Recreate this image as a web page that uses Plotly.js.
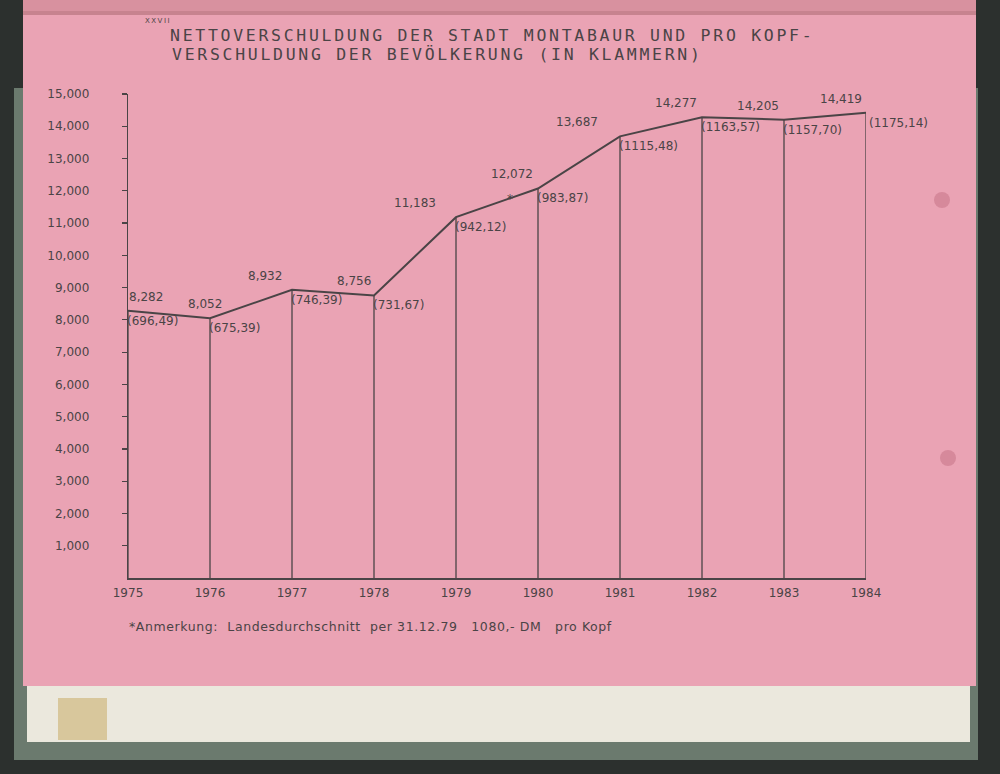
<!DOCTYPE html>
<html>
<head>
<meta charset="utf-8">
<script src="https://cdn.plot.ly/plotly-3.0.1.min.js"></script>
<style>html,body{margin:0;padding:0;background:#2c302e;}#chart{width:1000px;height:774px;}</style>
</head>
<body>
<div id="chart"></div>
<script>
// ---- data ----
const years = [1975, 1976, 1977, 1978, 1979, 1980, 1981, 1982, 1983, 1984];
const netDebt = [8282, 8052, 8932, 8756, 11183, 12072, 13687, 14277, 14205, 14419]; // in 1000 DM
const perCapita = [696.49, 675.39, 746.39, 731.67, 942.12, 983.87, 1115.48, 1163.57, 1157.70, 1175.14]; // DM pro Kopf
const yTicks = [1000, 2000, 3000, 4000, 5000, 6000, 7000, 8000, 9000, 10000, 11000, 12000, 13000, 14000, 15000];
const titleLine1 = 'NETTOVERSCHULDUNG DER STADT MONTABAUR UND PRO KOPF-';
const titleLine2 = 'VERSCHULDUNG DER BEVÖLKERUNG (IN KLAMMERN)';
const footnote = '*Anmerkung:  Landesdurchschnitt  per 31.12.79   1080,- DM   pro Kopf';

// ---- styles ----
const ink = '#4a4446';
const font = 'DejaVu Sans, sans-serif';
const mono = 'DejaVu Sans Mono, monospace';
const debtAnchor = ['left', 'center', 'right', 'right', 'right', 'right', 'right', 'right', 'right', 'right'];
const debtXShift = [-1, -5, -8, -1, -18, -3, -20, -3, -3, -2];
const capXShift = [-3, -3, -3, -3, -3, -3, -3, -3, -3, 1];

const debtLabels = netDebt.map(v => v.toLocaleString('en-US'));
const capLabels = perCapita.map(v => '(' + v.toFixed(2).replace('.', ',') + ')');

const traceLine = {
  x: years, y: netDebt, type: 'scatter', mode: 'lines',
  line: {color: ink, width: 2},
  error_y: {type: 'data', symmetric: false, array: years.map(() => 0), arrayminus: netDebt,
            color: ink, thickness: 1.3, width: 0},
  cliponaxis: false, hoverinfo: 'skip', showlegend: false
};

// pixel -> paper helpers for decorative page shapes
const PX = px => (px - 128) / 738;
const PY = py => (578 - py) / 484;
function rect(x0, y0, x1, y1, color) {
  return {type: 'rect', xref: 'paper', yref: 'paper', x0: PX(x0), x1: PX(x1), y0: PY(y0), y1: PY(y1),
          fillcolor: color, line: {width: 0}, layer: 'below'};
}
function circ(cx, cy, r, color) {
  return {type: 'circle', xref: 'paper', yref: 'paper', x0: PX(cx - r), x1: PX(cx + r), y0: PY(cy - r), y1: PY(cy + r),
          fillcolor: color, line: {width: 0}, layer: 'below'};
}
const spaced = (t, px) => '<span style="letter-spacing:' + px + 'px">' + t + '</span>';

const annotations = [];
years.forEach((yr, i) => {
  annotations.push({text: debtLabels[i], x: yr, y: netDebt[i], xref: 'x', yref: 'y',
    xanchor: debtAnchor[i], yanchor: 'bottom', xshift: debtXShift[i], yshift: 5,
    showarrow: false, font: {family: font, size: 12, color: ink}});
  annotations.push({text: capLabels[i], x: yr, y: netDebt[i], xref: 'x', yref: 'y',
    xanchor: 'left', yanchor: 'top', xshift: capXShift[i], yshift: -1,
    showarrow: false, font: {family: font, size: 12, color: ink}});
});
annotations.push(
  {text: spaced(titleLine2, 2.7), xref: 'paper', yref: 'paper', x: PX(170), y: PY(55), xanchor: 'left', yanchor: 'middle',
   showarrow: false, font: {family: mono, size: 16.5, color: ink}},
  {text: spaced('XXVII', 1.5), xref: 'paper', yref: 'paper', x: PX(143), y: PY(21), xanchor: 'left', yanchor: 'middle',
   showarrow: false, font: {family: font, size: 7, color: ink}},
  {text: spaced(footnote, 0.6), xref: 'paper', yref: 'paper', x: PX(127), y: PY(626), xanchor: 'left', yanchor: 'middle',
   showarrow: false, font: {family: font, size: 12.5, color: ink}},
  {text: '*', xref: 'x', yref: 'y', x: 1979.66, y: 11750, showarrow: false,
   font: {family: font, size: 12, color: ink}}
);

const layout = {
  width: 1000, height: 774,
  margin: {l: 128, r: 134, t: 94, b: 196},
  paper_bgcolor: '#2c302e',
  plot_bgcolor: 'rgba(0,0,0,0)',
  title: {text: spaced(titleLine1, 2.7), x: 170 / 1000, xanchor: 'left', xref: 'container',
          y: 1 - 35 / 774, yanchor: 'middle', yref: 'container',
          font: {family: mono, size: 16.5, color: ink}},
  xaxis: {
    range: [1975, 1984], tickvals: years, ticktext: years.map(String),
    showgrid: false, zeroline: false, showline: true, linecolor: ink, linewidth: 1.5,
    ticks: '', tickfont: {family: font, size: 12, color: ink}, ticklabelstandoff: 3, fixedrange: true
  },
  yaxis: {
    range: [0, 15000], tickvals: yTicks, tickformat: ',d',
    showgrid: false, zeroline: false, showline: true, linecolor: ink, linewidth: 1.3,
    ticks: 'outside', ticklen: 5, tickcolor: ink, tickwidth: 1.2,
    tickfont: {family: font, size: 12, color: ink}, ticklabelstandoff: 30, fixedrange: true
  },
  shapes: [
    rect(14, 88, 978, 760, '#6b7a6e'),
    rect(23, 0, 976, 686, '#eaa3b4'),
    rect(23, 0, 976, 11, '#d8919f'),
    rect(23, 11, 976, 15, '#c7838f'),
    rect(27, 686, 970, 742, '#ebe8dd'),
    rect(58, 698, 107, 740, '#d8c79c'),
    circ(942, 200, 8, '#d6899b'),
    circ(948, 458, 8, '#d6899b')
  ],
  annotations: annotations
};

Plotly.newPlot('chart', [traceLine], layout, {staticPlot: true, displayModeBar: false});
</script>
</body>
</html>
